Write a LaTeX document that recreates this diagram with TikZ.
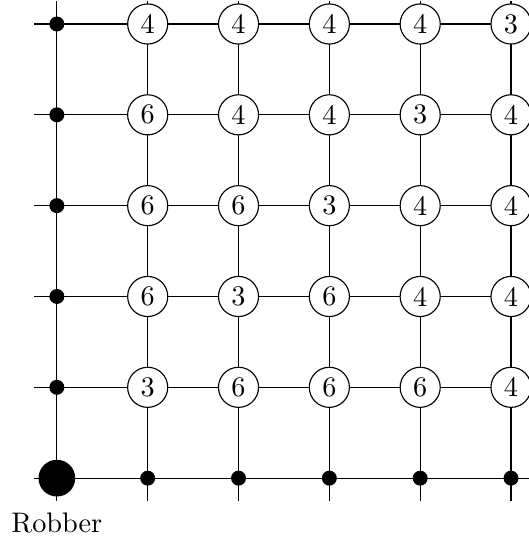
\documentclass[tikz,border=0pt]{standalone}
\usetikzlibrary{positioning}
\tikzset{cnt/.style={circle,draw,fill=white,minimum size=14.2pt,inner sep=0pt},dot/.style={circle,fill,inner sep=0pt,minimum size=5.3pt}}
\begin{document}
\begin{tikzpicture}[x=1.13cm,y=1.13cm]
\useasboundingbox(-.626,-.714)rectangle(5.198,5.264);
\foreach\i in{0,...,5}{\coordinate(l\i)at(-.25,\i);\coordinate(r\i)at(5.25,\i);\coordinate(b\i)at(\i,-.25);\coordinate(t\i)at(\i,5.25);
\draw(l\i)--(r\i);\draw(b\i)--(t\i);}
\foreach\v[count=\c]in{4,4,4,4,3}\node[cnt](n\c5)at(\c,5){\v};
\foreach\v[count=\c]in{6,4,4,3,4}\node[cnt](n\c4)at(\c,4){\v};
\foreach\v[count=\c]in{6,6,3,4,4}\node[cnt](n\c3)at(\c,3){\v};
\foreach\v[count=\c]in{6,3,6,4,4}\node[cnt](n\c2)at(\c,2){\v};
\foreach\v[count=\c]in{3,6,6,6,4}\node[cnt](n\c1)at(\c,1){\v};
\foreach\i in{1,...,5}{\node[dot](c0\i)at(0,\i){};\node[dot](c\i0)at(\i,0){};}
\node[circle,fill,inner sep=0pt,minimum size=13pt](rob)at(0,0){};
\node[below=2pt of rob](lbl){Robber};
\end{tikzpicture}
\end{document}
